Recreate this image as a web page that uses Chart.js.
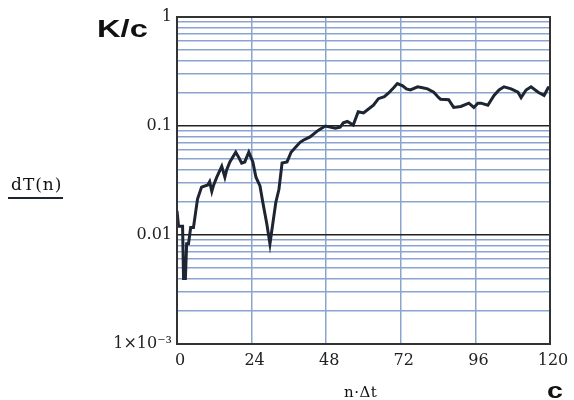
<!DOCTYPE html>
<html>
<head>
<meta charset="utf-8">
<script src="https://cdn.jsdelivr.net/npm/chart.js@4.4.1/dist/chart.umd.min.js"></script>
<style>
  body { margin: 0; background: #fff; }
  #wrap { position: relative; width: 574px; height: 400px; overflow: hidden; }
  .lbl { position: absolute; white-space: nowrap; color: #111; line-height: 1; }
  #unitY { left: 97px; top: 16px; font: bold 23px "Liberation Sans", sans-serif; transform: scaleX(1.42); transform-origin: left top; }
  #nameY { left: 11px; top: 174px; font: 17px "DejaVu Serif", serif; letter-spacing: 1px; }
  #nameYLine { position: absolute; left: 8px; top: 197px; width: 55px; height: 2px; background: #1d2533; }
  #nameX { left: 344px; top: 383px; font: 15px "DejaVu Serif", serif; letter-spacing: 0.5px; }
  #unitX { left: 547px; top: 378px; font: bold 22px "Liberation Sans", sans-serif; transform: scaleX(1.3); transform-origin: left top; }
</style>
</head>
<body>
<div id="wrap">
  <canvas id="chart" width="574" height="400"></canvas>
  <div class="lbl" id="unitY">K/c</div>
  <div class="lbl" id="nameY">dT(n)</div>
  <div id="nameYLine"></div>
  <div class="lbl" id="nameX">n·Δt</div>
  <div class="lbl" id="unitX">c</div>
</div>
<script>
// n·Δt positions and dT(n) values
const times = [0, 0.5, 1.8, 2.1, 2.7, 3.1, 3.7, 4.4, 5.3, 6.0, 6.6, 7.9, 9.9, 10.5, 11.2, 11.8, 12.8, 14.4, 15.4, 16.0,
  17.0, 18.9, 19.9, 20.8, 21.8, 23.1, 24.4, 25.4, 26.7, 27.6, 28.9, 29.9, 30.9, 31.8, 32.8, 33.8, 35.4, 36.7, 38.0, 39.6,
  40.6, 42.8, 45.4, 47.7, 49.3, 50.9, 52.5, 53.5, 54.8, 56.7, 58.3, 60.0, 61.2, 63.2, 64.8, 66.7, 68.0, 69.7, 70.9, 72.6,
  73.8, 75.1, 77.4, 79.0, 80.6, 82.6, 84.2, 84.8, 87.4, 89.0, 91.3, 93.9, 95.5, 96.8, 97.8, 100.0, 102.0, 103.6, 105.2, 107.5,
  109.7, 110.7, 112.3, 113.9, 116.2, 118.1, 119.4, 120]
const dT = [0.0166, 0.0120, 0.0120, 0.0040, 0.0040, 0.0083, 0.0083, 0.0117, 0.0117, 0.0162, 0.0214, 0.0275, 0.0288, 0.0309, 0.0251, 0.0288, 0.0339, 0.0427, 0.0339, 0.0398,
  0.0468, 0.0575, 0.0513, 0.0457, 0.0468, 0.0575, 0.0468, 0.0339, 0.0282, 0.0200, 0.0126, 0.0083, 0.0132, 0.0200, 0.0263, 0.0457, 0.0468, 0.0575, 0.0631, 0.0708,
  0.0741, 0.0794, 0.0912, 0.100, 0.0977, 0.0955, 0.0977, 0.107, 0.110, 0.102, 0.135, 0.132, 0.140, 0.155, 0.178, 0.186, 0.200, 0.224, 0.245, 0.234,
  0.219, 0.214, 0.229, 0.224, 0.219, 0.204, 0.182, 0.176, 0.174, 0.148, 0.151, 0.162, 0.148, 0.162, 0.162, 0.155, 0.191, 0.214, 0.229, 0.219,
  0.204, 0.182, 0.214, 0.229, 0.204, 0.191, 0.224, 0.224]

const xTicks = [0, 24, 48, 72, 96, 120]
const yLabels = { 1: '1', 0.1: '0.1', 0.01: '0.01', 0.001: '1×10⁻³' }
const yDecades = [0.001, 0.01, 0.1]
const ySteps = [1, 2, 3, 4, 5, 6, 7, 8, 9]

const gridBlue = '#8aa4cf'
const majorLine = '#222'
const tickFont = { family: '"DejaVu Serif", serif', size: 16 }

function isDecade(v) {
  const l = Math.log10(v)
  return Math.abs(l - Math.round(l)) < 1e-6
}

const frame = {
  id: 'frame',
  afterDraw(chart) {
    const { ctx, chartArea: a } = chart
    ctx.save()
    ctx.strokeStyle = '#333'
    ctx.lineWidth = 2
    ctx.strokeRect(a.left, a.top, a.right - a.left, a.bottom - a.top)
    ctx.restore()
  }
}

new Chart(document.getElementById('chart'), {
  type: 'line',
  data: {
    datasets: [{
      data: times.map((t, i) => ({ x: t, y: dT[i] })),
      borderColor: '#1d2533',
      borderWidth: 3,
      pointRadius: 0,
      tension: 0,
      fill: false
    }]
  },
  options: {
    responsive: false,
    animation: false,
    layout: { padding: { left: 0, top: 17, right: 24, bottom: 0 } },
    plugins: { legend: { display: false }, tooltip: { enabled: false } },
    scales: {
      x: {
        type: 'linear',
        min: 0,
        max: 120,
        afterFit: s => { s.height = 56 },
        afterBuildTicks: s => { s.ticks = xTicks.map(v => ({ value: v })) },
        border: { display: false },
        grid: { color: gridBlue, lineWidth: 1.5, drawTicks: false },
        ticks: { font: tickFont, color: '#222', padding: 7, labelOffset: 3, maxRotation: 0, autoSkip: false }
      },
      y: {
        type: 'logarithmic',
        min: 0.001,
        max: 1,
        afterFit: s => { s.width = 177 },
        afterBuildTicks: s => {
          const vals = []
          yDecades.forEach(d => ySteps.forEach(k => vals.push(+(d * k).toPrecision(3))))
          vals.push(1)
          s.ticks = vals.map(v => ({ value: v }))
        },
        border: { display: false },
        grid: {
          drawTicks: false,
          lineWidth: 1.5,
          color: c => (c.tick && isDecade(c.tick.value)) ? majorLine : gridBlue
        },
        ticks: {
          font: tickFont,
          color: '#222',
          padding: 5,
          autoSkip: false,
          callback: v => yLabels[v] || ''
        }
      }
    }
  },
  plugins: [frame]
})
</script>
</body>
</html>
